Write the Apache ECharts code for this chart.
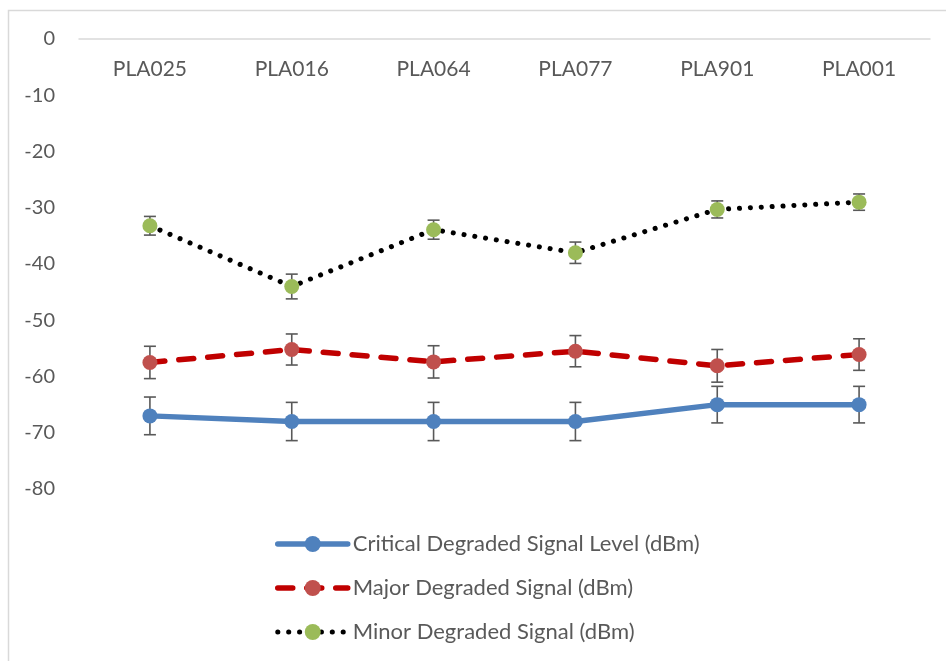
<!DOCTYPE html>
<html>
<head>
<meta charset="utf-8">
<script src="https://cdn.jsdelivr.net/npm/echarts@6/dist/echarts.min.js"></script>
<style>
html,body{margin:0;padding:0;background:#fff;}
#chart{width:946px;height:661px;}
</style>
</head>
<body>
<div id="chart"></div>
<script>
const categories = ['PLA025', 'PLA016', 'PLA064', 'PLA077', 'PLA901', 'PLA001'];
const seriesNames = ['Critical Degraded Signal Level (dBm)', 'Major Degraded Signal (dBm)', 'Minor Degraded Signal (dBm)'];
const critical = [-67, -68, -68, -68, -65, -65];
const major = [-57.5, -55.2, -57.4, -55.5, -58.1, -56.1];
const minor = [-33.2, -44, -33.9, -38, -30.3, -29];
const errorPercent = 5;
const yTicks = [0, -10, -20, -30, -40, -50, -60, -70, -80];

const chart = echarts.init(document.getElementById('chart'));
const FONT = 'Lato, "Open Sans", sans-serif';

function errorSeries(values, z) {
  const data = values.map((v, i) => {
    const e = Math.abs(v) * errorPercent / 100;
    return [i, v - e, v + e];
  });
  return {
    type: 'custom',
    silent: true,
    z: z,
    data: data,
    renderItem: function (params, api) {
      const x = api.value(0);
      const lo = api.coord([x, api.value(1)]);
      const hi = api.coord([x, api.value(2)]);
      const hw = 6;
      const st = { stroke: '#595959', lineWidth: 1.6 };
      return {
        type: 'group',
        children: [
          { type: 'line', shape: { x1: lo[0], y1: lo[1], x2: hi[0], y2: hi[1] }, style: st },
          { type: 'line', shape: { x1: lo[0] - hw, y1: lo[1], x2: lo[0] + hw, y2: lo[1] }, style: st },
          { type: 'line', shape: { x1: hi[0] - hw, y1: hi[1], x2: hi[0] + hw, y2: hi[1] }, style: st }
        ]
      };
    }
  };
}

const option = {
  backgroundColor: '#fff',
  animation: false,
  graphic: [{
    type: 'rect',
    shape: { x: 8.5, y: 10.5, width: 960, height: 700 },
    style: { fill: 'none', stroke: '#D9D9D9', lineWidth: 1.5 },
    silent: true
  }],
  grid: { left: 79, right: 16, top: 39, height: 450, containLabel: false },
  legend: {
    orient: 'vertical',
    left: 270,
    top: 528,
    itemGap: 22,
    itemWidth: 70,
    itemHeight: 20,
    data: seriesNames,
    lineStyle: { width: 'inherit' },
    textStyle: { fontFamily: FONT, fontSize: 22, color: '#595959', padding: [0, 0, 0, 0] }
  },
  xAxis: {
    type: 'category',
    data: categories,
    position: 'top',
    boundaryGap: true,
    axisLine: { show: true, onZero: false, lineStyle: { color: '#D9D9D9', width: 1.5 } },
    axisTick: { show: false },
    axisLabel: { inside: true, margin: 20, fontFamily: FONT, fontSize: 21, color: '#595959' },
    splitLine: { show: false }
  },
  yAxis: {
    type: 'value',
    min: -80,
    max: 0,
    interval: 10,
    axisLine: { show: false },
    axisTick: { show: false },
    splitLine: { show: false },
    axisLabel: {
      margin: 24,
      fontFamily: FONT,
      fontSize: 20,
      color: '#595959',
      formatter: function (v) { return yTicks.indexOf(v) >= 0 ? String(v) : ''; }
    }
  },
  series: [
    errorSeries(critical, 1),
    errorSeries(major, 1),
    errorSeries(minor, 1),
    {
      name: seriesNames[0],
      type: 'line',
      data: critical,
      z: 3,
      symbol: 'circle',
      symbolSize: 15,
      lineStyle: { color: '#4F81BD', width: 5.5, cap: 'round' },
      itemStyle: { color: '#4F81BD' }
    },
    {
      name: seriesNames[1],
      type: 'line',
      data: major,
      z: 3,
      symbol: 'circle',
      symbolSize: 15,
      lineStyle: { color: '#C00000', width: 5.5, type: [15, 14], cap: 'round' },
      itemStyle: { color: '#C0504D' }
    },
    {
      name: seriesNames[2],
      type: 'line',
      data: minor,
      z: 3,
      symbol: 'circle',
      symbolSize: 15,
      lineStyle: { color: '#000000', width: 5, type: [0.1, 10.8], cap: 'round' },
      itemStyle: { color: '#9BBB59' }
    }
  ]
};
chart.setOption(option);
</script>
</body>
</html>
